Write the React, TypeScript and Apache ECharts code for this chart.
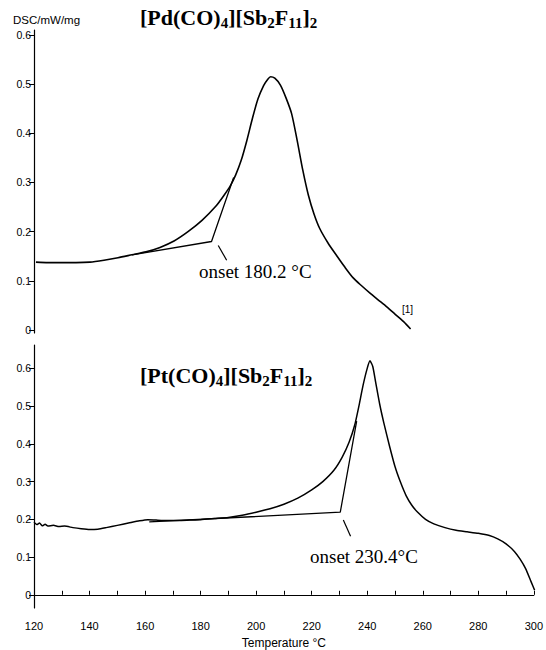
import React, { useEffect, useRef } from "react";
import * as echarts from "echarts";

// ---- Data ----
const pdTemp = [120.7, 125, 130, 135, 140, 145, 150, 155, 160, 165, 170, 175, 180, 185, 188, 190, 192, 194, 196, 198, 200, 202, 203.5, 204.5, 206, 208, 210, 212, 214, 216, 218, 220, 222, 225, 228, 231, 234, 237, 240, 243, 246, 249, 252, 254.5];
const pdDsc = [0.138, 0.137, 0.137, 0.137, 0.138, 0.142, 0.147, 0.153, 0.159, 0.168, 0.181, 0.2, 0.223, 0.252, 0.275, 0.292, 0.315, 0.345, 0.385, 0.43, 0.47, 0.497, 0.51, 0.515, 0.512, 0.498, 0.472, 0.44, 0.385, 0.325, 0.274, 0.236, 0.207, 0.177, 0.152, 0.128, 0.106, 0.09, 0.075, 0.061, 0.047, 0.032, 0.017, 0.002];

const ptTemp = [120, 121, 122, 123, 124, 125, 127, 129, 131, 134, 137, 140, 143, 146, 150, 154, 158, 161, 164, 168, 172, 176, 180, 185, 190, 195, 200, 205, 210, 215, 220, 224, 228, 231, 233.5, 235.5, 237, 238.5, 240, 241, 242, 243, 244.5, 246, 248, 250, 252, 254, 256, 258, 261, 264, 268, 272, 276, 280, 284, 287, 290, 293, 295, 297, 299, 300.3];
const ptDsc = [0.192, 0.186, 0.19, 0.183, 0.187, 0.182, 0.184, 0.181, 0.182, 0.178, 0.175, 0.173, 0.174, 0.178, 0.184, 0.19, 0.196, 0.199, 0.198, 0.197, 0.197, 0.198, 0.199, 0.202, 0.205, 0.211, 0.219, 0.228, 0.24, 0.256, 0.278, 0.3, 0.33, 0.365, 0.405, 0.45, 0.5, 0.555, 0.6, 0.62, 0.605, 0.565, 0.505, 0.455, 0.395, 0.34, 0.298, 0.263, 0.238, 0.22, 0.2, 0.188, 0.178, 0.171, 0.167, 0.163, 0.157, 0.148, 0.135, 0.115, 0.095, 0.07, 0.035, 0.012];

// onset construction lines (baseline + tangent) [T, DSC]
const pdOnsetLine = [[155, 0.153], [183.4, 0.18], [191.3, 0.31]];
const ptOnsetLine = [[161.5, 0.193], [230.3, 0.219], [236.2, 0.46]];
// leader lines from onset to label
const pdLeader = [[185.8, 0.172], [188.8, 0.142]];
const ptLeader = [[231.4, 0.198], [234, 0.155]];

const yTicks = [0, 0.1, 0.2, 0.3, 0.4, 0.5, 0.6];
const xLabels = [120, 140, 160, 180, 200, 220, 240, 260, 280, 300];
const xTicks = [120, 130, 140, 150, 160, 170, 180, 190, 200, 210, 220, 230, 240, 250, 260, 270, 280, 290, 300];

const pdTitle = "{b|[Pd(CO)}{s|4}{b|][Sb}{s|2}{b|F}{s|11}{b|]}{s|2}";
const ptTitle = "{b|[Pt(CO)}{s|4}{b|][Sb}{s|2}{b|F}{s|11}{b|]}{s|2}";
const pdOnsetText = "onset 180.2 °C";
const ptOnsetText = "onset 230.4°C";

const zip = (a: number[], b: number[]) => a.map((t, i) => [t, b[i]]);

const sans = "Liberation Sans";
const serif = "Liberation Serif";

const titleRich = {
  b: { fontFamily: serif, fontWeight: "bold", fontSize: 22, lineHeight: 26, color: "#000" },
  s: { fontFamily: serif, fontWeight: "bold", fontSize: 15, lineHeight: 15, verticalAlign: "bottom", color: "#000" },
};

export default function App() {
  const ref = useRef<HTMLDivElement>(null);
  useEffect(() => {
    if (!ref.current) return;
    const chart = echarts.init(ref.current, null, { renderer: "svg" });
    const yAxisCommon = (min: number, max: number, gridIndex: number) => ({
      type: "value",
      gridIndex,
      min,
      max,
      splitLine: { show: false },
      axisLine: { show: true, lineStyle: { color: "#000", width: 1.2 } },
      axisTick: { show: true, customValues: yTicks, length: 5, lineStyle: { color: "#000", width: 1 } },
      axisLabel: {
        customValues: yTicks,
        color: "#000",
        fontFamily: sans,
        fontSize: 10.5,
        margin: 3,
        formatter: (v: number) => (v === 0 ? "0" : v.toFixed(1)),
      },
    });
    const option: any = {
      animation: false,
      backgroundColor: "#fff",
      grid: [
        { left: 34, top: 30, width: 504, height: 303 },
        { left: 34, top: 345, width: 504, height: 273 },
      ],
      xAxis: [
        { type: "value", gridIndex: 0, min: 120, max: 300, show: false },
        {
          type: "value",
          gridIndex: 1,
          min: 120,
          max: 300,
          splitLine: { show: false },
          axisLine: { show: true, lineStyle: { color: "#000", width: 1.2 } },
          axisTick: { show: true, inside: true, length: 4, customValues: xTicks, lineStyle: { color: "#000" } },
          axisLabel: { customValues: xLabels, color: "#000", fontFamily: sans, fontSize: 11, margin: 12 },
          name: "Temperature °C",
          nameLocation: "middle",
          nameGap: 29,
          nameTextStyle: { color: "#000", fontFamily: sans, fontSize: 12 },
        },
      ],
      yAxis: [yAxisCommon(-0.006, 0.61, 0), yAxisCommon(-0.035, 0.662, 1)],
      series: [
        {
          type: "line", xAxisIndex: 0, yAxisIndex: 0, data: zip(pdTemp, pdDsc), smooth: 0.25,
          showSymbol: false, lineStyle: { color: "#000", width: 1.6 },
        },
        {
          type: "line", xAxisIndex: 0, yAxisIndex: 0, data: pdOnsetLine,
          showSymbol: false, lineStyle: { color: "#000", width: 1.3 },
        },
        {
          type: "line", xAxisIndex: 0, yAxisIndex: 0, data: pdLeader,
          showSymbol: false, lineStyle: { color: "#000", width: 1.2 },
        },
        {
          type: "line", xAxisIndex: 1, yAxisIndex: 1, data: zip(ptTemp, ptDsc), smooth: 0.2,
          showSymbol: false, lineStyle: { color: "#000", width: 1.5 },
        },
        {
          type: "line", xAxisIndex: 1, yAxisIndex: 1, data: ptOnsetLine,
          showSymbol: false, lineStyle: { color: "#000", width: 1.3 },
        },
        {
          type: "line", xAxisIndex: 1, yAxisIndex: 1, data: ptLeader,
          showSymbol: false, lineStyle: { color: "#000", width: 1.2 },
        },
      ],
      graphic: [
        { type: "text", left: 13, top: 14, style: { text: "DSC/mW/mg", fill: "#000", font: `11.5px ${sans}` } },
        { type: "text", left: 140, top: 6, style: { text: pdTitle, rich: titleRich } },
        { type: "text", left: 140, top: 364, style: { text: ptTitle, rich: titleRich } },
        { type: "text", left: 199, top: 262, style: { text: pdOnsetText, fill: "#000", font: `19px ${serif}` } },
        { type: "text", left: 310, top: 547, style: { text: ptOnsetText, fill: "#000", font: `19px ${serif}` } },
        { type: "text", left: 402, top: 304, style: { text: "[1]", fill: "#000", font: `10px ${sans}` } },
      ],
    };
    chart.setOption(option);
    return () => chart.dispose();
  }, []);
  return (
    <div
      ref={ref}
      style={{ position: "fixed", left: 0, top: 0, width: 546, height: 650, background: "#fff" }}
    />
  );
}
